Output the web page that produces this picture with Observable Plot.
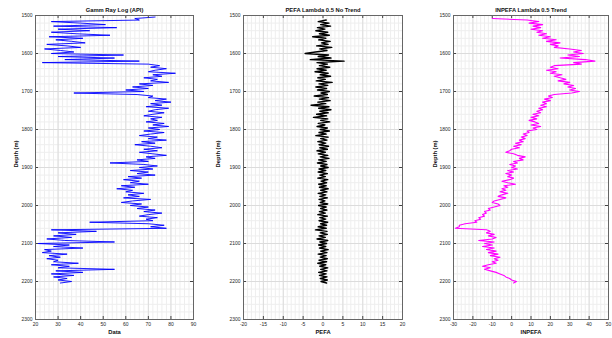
<!DOCTYPE html>
<html>
<head>
<meta charset="utf-8">
<script src="https://cdn.jsdelivr.net/npm/d3@7"></script>
<script src="https://cdn.jsdelivr.net/npm/@observablehq/plot@0.6"></script>
<style>
  html, body { margin: 0; padding: 0; background: #fff; }
  #wrap { position: relative; width: 612px; height: 338px; overflow: hidden; }
  .panel { position: absolute; top: 0; }
</style>
</head>
<body>
<div id="wrap"></div>
<script>
// ---------- data ----------
const titles = ["Gamm Ray Log (API)", "PEFA Lambda 0.5 No Trend", "INPEFA Lambda 0.5 Trend"];
const xLabels = ["Data", "PEFA", "INPEFA"];
const yLabel = "Depth (m)";
const depthTicks = [1500, 1600, 1700, 1800, 1900, 2000, 2100, 2200, 2300];
const gammaTicks = [20, 30, 40, 50, 60, 70, 80, 90];
const pefaTicks = [-20, -15, -10, -5, 0, 5, 10, 15, 20];
const inpefaTicks = [-30, -20, -10, 0, 10, 20, 30, 40, 50];

// sampling (depth of first sample, metres between samples)
const gammaStart = 1504, pefaStart = 1512, inpefaStart = 1508, sampleStep = 4;

const gammaValues = [
  73,64,66,27,40,51,28,56,30,44,
  27,38,53,26,41,29,36,42,25,34,
  40,24,31,37,27,59,30,55,33,66,
  23,70,75,71,78,73,70,82,72,76,
  68,74,71,79,66,72,63,70,60,68,
  37,65,72,70,78,73,80,71,76,69,
  79,73,70,77,72,68,76,71,74,69,
  77,72,79,70,75,68,77,71,66,74,
  70,78,67,73,64,71,76,68,74,66,
  72,78,69,73,65,70,53,68,74,66,
  72,62,70,65,73,61,67,59,66,62,
  70,58,64,56,63,60,68,61,66,59,
  71,63,58,67,62,70,65,73,68,76,
  70,66,74,69,72,44,70,77,71,78,
  27,47,30,38,28,36,25,33,55,21,
  35,28,41,24,27,23,34,26,31,25,
  30,28,39,27,35,30,55,29,41,27,
  37,28,34,30,36,31
];

const pefaValues = [
  0.8,-1.2,1.5,-0.6,1.9,-1.4,0.5,-1.8,1.2,-0.9,
  1.6,-2.6,0.7,-1.1,1.8,-0.4,1.3,-1.6,2.2,-0.8,
  1.0,-1.9,-4.5,1.4,-1.2,2.0,-3.2,5.3,-1.5,1.1,
  -0.9,1.7,-1.5,0.8,-2.0,1.3,-0.7,1.9,-1.3,0.6,
  -1.7,2.3,-1.0,1.2,-1.8,0.9,-1.4,1.6,-0.5,1.1,
  -2.2,1.4,-0.9,1.8,-1.3,0.7,-3.0,1.5,-1.1,2.0,
  -0.8,1.3,-1.6,0.9,-2.4,1.2,-0.6,1.7,-1.2,0.5,
  -1.5,1.1,-0.7,1.6,-1.0,0.8,-1.8,1.3,-0.6,1.0,
  -1.3,0.7,-1.0,1.4,-0.8,1.1,-1.5,0.6,-1.2,1.2,
  -0.7,1.5,-1.1,0.8,-1.4,1.0,-0.6,1.3,-1.0,0.7,
  -1.2,1.1,-0.8,0.6,-1.3,1.2,-0.5,0.9,-1.1,0.8,
  -0.9,1.3,-0.6,1.0,-1.2,0.7,-0.8,1.1,-1.0,0.5,
  -0.7,1.2,-1.1,0.8,-0.6,1.0,-0.9,0.6,-1.3,1.1,
  -0.8,0.7,-1.0,1.2,-0.6,0.9,-1.2,0.8,-1.9,1.0,
  -0.7,1.1,-1.0,0.6,-1.5,1.2,-0.8,0.9,-1.1,0.7,
  -0.9,1.3,-0.6,1.0,-1.2,0.8,-0.7,1.1,-1.0,0.9,
  -1.3,0.7,-0.8,1.2,-0.6,1.0,-1.1,0.8,-0.9,1.0,
  -0.7,1.1,-0.5,0.9
];

const inpefaValues = [
  -10,8,14,9,16,11,15,10,16,13,
  18,14,20,16,23,18,25,20,24,22,
  30,36,32,37,29,35,25,38,43,32,
  36,22,20,24,18,23,20,26,22,25,
  28,24,30,27,32,29,33,30,35,31,
  22,19,21,17,20,16,18,15,18,14,
  16,13,15,11,14,10,13,9,12,14,
  10,15,11,13,8,9,6,8,5,7,
  4,6,2,5,1,4,0,-1,-3,1,
  3,7,4,6,1,3,-1,2,0,3,
  -2,1,-3,0,-2,1,-1,-5,-2,2,
  -4,-2,-5,-3,-6,-2,-5,-7,-3,-6,
  -9,-10,-7,-6,-9,-12,-11,-14,-13,-15,
  -14,-17,-16,-19,-18,-24,-27,-27,-29,-13,
  -11,-13,-9,-12,-8,-10,-17,-9,-14,-10,
  -15,-9,-13,-8,-12,-7,-11,-6,-9,-7,
  -10,-8,-12,-15,-11,-14,-11,-8,-6,-4,
  -3,-1,0,2.5,1
];

// ---------- helpers ----------
const toRows = (vals, start) => vals.map((v, i) => ({d: start + i * sampleStep, v}));
const H = 338, MT = 15, MB = 19;
const FONT = "'Liberation Sans', Arial, Helvetica, sans-serif";

function panel({left, width, ml, mr, xDomain, xTicks, xMinorStep, rows, color, lineWidth, title, xLabel, yLabelDx}) {
  const fw = width - ml - mr, fh = H - MT - MB;
  const xMinor = d3.range(xDomain[0], xDomain[1] + 1e-9, xMinorStep);
  const yMinor = d3.range(1500, 2300 + 1e-9, 20);
  const chart = Plot.plot({
    width, height: H,
    marginTop: MT, marginBottom: MB, marginLeft: ml, marginRight: mr,
    style: {fontFamily: FONT, fontSize: "5px", color: "#262626", background: "white", overflow: "visible"},
    x: {domain: xDomain},
    y: {domain: [1500, 2300], reverse: true},
    marks: [
      Plot.ruleX(xMinor, {stroke: "#eeeeee", strokeWidth: 1}),
      Plot.ruleY(yMinor, {stroke: "#eeeeee", strokeWidth: 1}),
      Plot.ruleX(xTicks, {stroke: "#dcdcdc", strokeWidth: 1}),
      Plot.ruleY(depthTicks, {stroke: "#dcdcdc", strokeWidth: 1}),
      Plot.line(rows, {x: "v", y: "d", stroke: color, strokeWidth: lineWidth, curve: "linear"}),
      Plot.tickY(depthTicks, {y: d => d, insetRight: fw - 3, stroke: "#444"}),
      Plot.tickY(depthTicks, {y: d => d, insetLeft: fw - 3, stroke: "#444"}),
      Plot.tickX(xTicks, {x: d => d, insetTop: fh - 3, stroke: "#444"}),
      Plot.tickX(xTicks, {x: d => d, insetBottom: fh - 3, stroke: "#444"}),
      Plot.frame({stroke: "#666", strokeWidth: 1}),
      Plot.axisY(depthTicks, {anchor: "left", tickSize: 0, tickPadding: 3, fontSize: 5, label: null, fill: "#262626", tickFormat: d => String(d)}),
      Plot.axisX(xTicks, {anchor: "bottom", tickSize: 0, tickPadding: 2.5, fontSize: 5, label: null, fill: "#262626", tickFormat: d => String(d)}),
      Plot.text([title], {frameAnchor: "top", dy: -5, lineAnchor: "middle", fontSize: 5.8, fontWeight: "bold", fill: "#111"}),
      Plot.text([xLabel], {frameAnchor: "bottom", dy: 13, lineAnchor: "middle", fontSize: 5.8, fontWeight: "bold", fill: "#111"}),
      Plot.text([yLabel], {frameAnchor: "left", dx: yLabelDx, rotate: -90, lineAnchor: "middle", fontSize: 5.8, fontWeight: "bold", fill: "#111"})
    ]
  });
  const div = document.createElement("div");
  div.className = "panel";
  div.style.left = left + "px";
  div.appendChild(chart);
  document.getElementById("wrap").appendChild(div);
}

panel({left: 0, width: 200, ml: 35, mr: 7, xDomain: [20, 90], xTicks: gammaTicks, xMinorStep: 2,
  rows: toRows(gammaValues, gammaStart), color: "#0000ff", lineWidth: 0.9, title: titles[0], xLabel: xLabels[0], yLabelDx: -19});
panel({left: 205, width: 200, ml: 38, mr: 3, xDomain: [-20, 20], xTicks: pefaTicks, xMinorStep: 1,
  rows: toRows(pefaValues, pefaStart), color: "#000000", lineWidth: 1.4, title: titles[1], xLabel: xLabels[1], yLabelDx: -25});
panel({left: 410, width: 202, ml: 43, mr: 4, xDomain: [-30, 50], xTicks: inpefaTicks, xMinorStep: 2,
  rows: toRows(inpefaValues, inpefaStart), color: "#ff00ff", lineWidth: 1.1, title: titles[2], xLabel: xLabels[2], yLabelDx: -18});
</script>
</body>
</html>
